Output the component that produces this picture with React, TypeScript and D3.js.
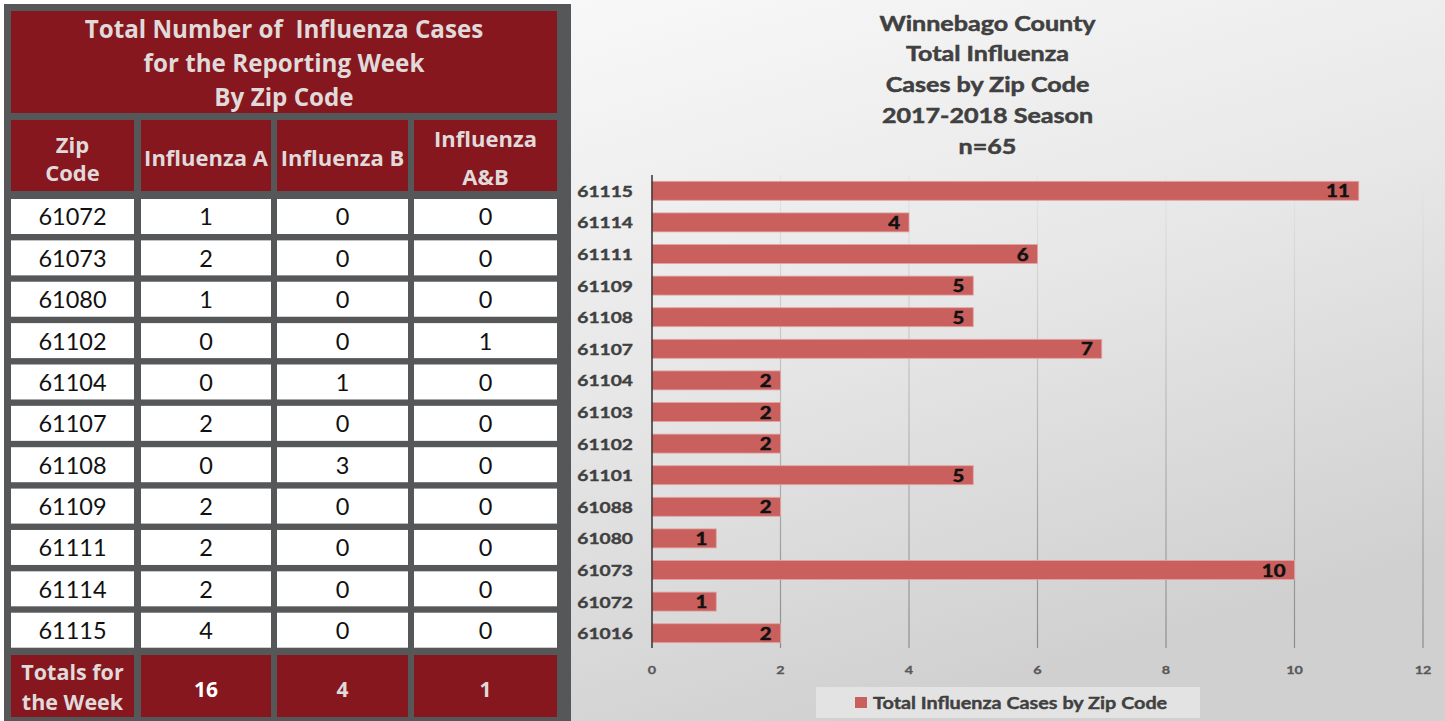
import React from 'react';
import * as d3 from 'd3';

// ---------- data ----------
const chartZips = ['61115', '61114', '61111', '61109', '61108', '61107', '61104', '61103', '61102', '61101', '61088', '61080', '61073', '61072', '61016'];
const chartCases = [11, 4, 6, 5, 5, 7, 2, 2, 2, 5, 2, 1, 10, 1, 2];
const xTicks = [0, 2, 4, 6, 8, 10, 12];
const chartTitle = ['Winnebago County', 'Total Influenza', 'Cases by Zip Code', '2017-2018 Season', 'n=65'];
const legendLabel = 'Total Influenza Cases by Zip Code';

const tableTitle = ['Total Number of  Influenza Cases', 'for the Reporting Week', 'By Zip Code'];
const tableZips = ['61072', '61073', '61080', '61102', '61104', '61107', '61108', '61109', '61111', '61114', '61115'];
const fluA = [1, 2, 1, 0, 0, 2, 0, 2, 2, 2, 4];
const fluB = [0, 0, 0, 0, 1, 0, 3, 0, 0, 0, 0];
const fluAB = [0, 0, 0, 1, 0, 0, 0, 0, 0, 0, 0];
const totalsLabel = ['Totals for', 'the Week'];
const totals = ['16', '4', '1'];

// ---------- layout ----------
const W = 1445;
const H = 721;
const RED = '#86171e';
const FRAME = '#555759';
const HEAD_TXT = '#e0dada';
const cols: [number, number][] = [[11, 134], [141, 271], [277, 408], [414, 557]];
const SX = 1.2; // horizontal stretch of chart text

const STXT = (x: number, y: number, s: string, opts: any) => (
  <text transform={`translate(${x},${y}) scale(${SX},1)`} {...opts}>{s}</text>
);

export default function App() {
  const rowScale = d3.scaleBand<string>().domain(tableZips).range([199, 647.7]).paddingInner(0.154).paddingOuter(0);
  const x = d3.scaleLinear().domain([0, 12]).range([652, 1423]);
  const y = d3.scaleBand<string>().domain(chartZips).range([175, 649]).paddingInner(0.4).paddingOuter(0.2);
  const colCenter = (c: number) => (cols[c][0] + cols[c][1]) / 2;
  const cellFont = 'Lato, "Open Sans", sans-serif';
  const headFont = '"Open Sans", Lato, sans-serif';
  const chartFont = 'Lato, "Open Sans", sans-serif';

  const header = [
    { lines: ['Zip', 'Code'], base: [153, 180.5] },
    { lines: ['Influenza A'], base: [165.5] },
    { lines: ['Influenza B'], base: [165.5] },
    { lines: ['Influenza', 'A&B'], base: [146.7, 185] },
  ];

  return (
    <svg width={W} height={H} style={{ position: 'fixed', left: 0, top: 0, display: 'block' }} xmlns="http://www.w3.org/2000/svg">
      <defs>
        <linearGradient id="bg" x1="0" y1="0" x2="0.35" y2="1">
          <stop offset="0" stopColor="#f8f8f8" />
          <stop offset="0.5" stopColor="#e7e7e7" />
          <stop offset="1" stopColor="#d0d0d0" />
        </linearGradient>
        <linearGradient id="grid" gradientUnits="userSpaceOnUse" x1="0" y1="175" x2="0" y2="648">
          <stop offset="0" stopColor="#e6e6e6" />
          <stop offset="1" stopColor="#8c8c8c" />
        </linearGradient>
      </defs>
      <rect x={0} y={0} width={W} height={H} fill="#ffffff" />

      {/* ---------- table ---------- */}
      <rect x={4} y={4} width={567} height={H - 4} fill={FRAME} />
      <rect x={11} y={11} width={546} height={102} fill={RED} />
      {tableTitle.map((t, i) => (
        <text key={t} x={284} y={37.8 + i * 34} textAnchor="middle" fontFamily={headFont} fontWeight={700} fontSize={24.2} fill={HEAD_TXT} style={{ whiteSpace: 'pre' }}>{t}</text>
      ))}
      {header.map((h, c) => (
        <g key={c}>
          <rect x={cols[c][0]} y={120} width={cols[c][1] - cols[c][0]} height={71} fill={RED} />
          {h.lines.map((l, j) => (
            <text key={l} x={colCenter(c)} y={h.base[j]} textAnchor="middle" fontFamily={headFont} fontWeight={700} fontSize={22} fill={HEAD_TXT}>{l}</text>
          ))}
        </g>
      ))}
      {tableZips.map((z, i) => {
        const ry = rowScale(z) as number;
        const bw = rowScale.bandwidth();
        const vals = [z, String(fluA[i]), String(fluB[i]), String(fluAB[i])];
        return (
          <g key={z}>
            {vals.map((v, c) => (
              <g key={c}>
                <rect x={cols[c][0]} y={ry} width={cols[c][1] - cols[c][0]} height={bw} fill="#ffffff" />
                <text x={colCenter(c)} y={ry + bw / 2 + 9} textAnchor="middle" fontFamily={cellFont} fontSize={23.5} fill="#111111">{v}</text>
              </g>
            ))}
          </g>
        );
      })}
      {cols.map((cc, c) => (
        <rect key={c} x={cc[0]} y={655} width={cc[1] - cc[0]} height={62} fill={RED} />
      ))}
      {totalsLabel.map((t, j) => (
        <text key={t} x={colCenter(0)} y={680 + j * 30} textAnchor="middle" fontFamily={headFont} fontWeight={700} fontSize={21.5} fill={HEAD_TXT}>{t}</text>
      ))}
      {totals.map((t, c) => (
        <text key={c} x={colCenter(c + 1)} y={696.5} textAnchor="middle" fontFamily={headFont} fontWeight={700} fontSize={21} fill={c === 0 ? '#ffffff' : HEAD_TXT}>{t}</text>
      ))}

      {/* ---------- chart ---------- */}
      <rect x={571} y={0} width={W - 571} height={H} fill="url(#bg)" />
      {chartTitle.map((t, i) => (
        STXT(987.5, 30.7 + i * 30.7, t, { key: t, textAnchor: 'middle', fontFamily: chartFont, fontWeight: 700, fontSize: 20.9, fill: '#404040', stroke: '#404040', strokeWidth: 0.5 })
      ))}
      {xTicks.filter((t) => t > 0).map((t) => (
        <line key={t} x1={x(t)} x2={x(t)} y1={175} y2={648} stroke="url(#grid)" strokeWidth={1.2} />
      ))}
      {chartZips.map((z, i) => {
        const by = y(z) as number;
        const bh = y.bandwidth();
        const xe = x(chartCases[i]);
        return (
          <g key={z}>
            <rect x={x(0)} y={by} width={xe - x(0)} height={bh} fill="#c9605d" stroke="#e3a3a1" strokeWidth={0.8} />
            {STXT(633, by + bh / 2 + 6, z, { textAnchor: 'end', fontFamily: chartFont, fontWeight: 700, fontSize: 16, fill: '#404040', stroke: '#404040', strokeWidth: 0.4 })}
            {STXT(xe - 9, by + bh / 2 + 6.5, String(chartCases[i]), { textAnchor: 'end', fontFamily: chartFont, fontWeight: 700, fontSize: 17, fill: '#111111', stroke: '#111111', strokeWidth: 0.5 })}
          </g>
        );
      })}
      <line x1={x(0)} x2={x(0)} y1={175} y2={648} stroke="#333333" strokeWidth={1.5} />
      {xTicks.map((t) => (
        STXT(x(t), 674, String(t), { key: t, textAnchor: 'middle', fontFamily: chartFont, fontWeight: 700, fontSize: 12, fill: '#595959', stroke: '#595959', strokeWidth: 0.3 })
      ))}
      <rect x={816} y={687} width={384} height={31} fill="#e3e3e3" />
      <rect x={855} y={697} width={12} height={11} fill="#c9605d" />
      {STXT(873, 708.5, legendLabel, { textAnchor: 'start', fontFamily: chartFont, fontWeight: 700, fontSize: 16.5, fill: '#404040', stroke: '#404040', strokeWidth: 0.4 })}
    </svg>
  );
}
